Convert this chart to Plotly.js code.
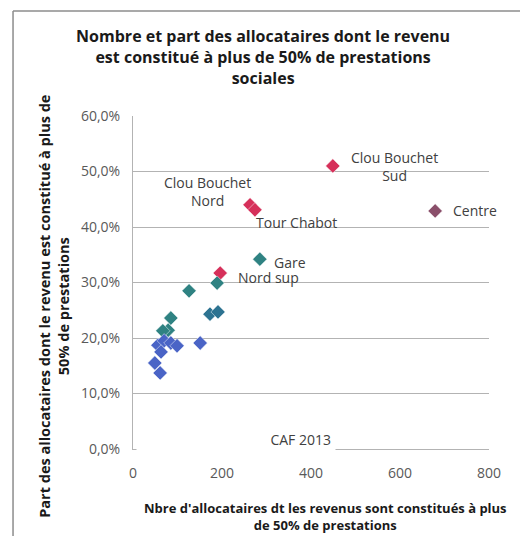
<!DOCTYPE html>
<html>
<head>
<meta charset="utf-8">
<script src="https://cdn.plot.ly/plotly-3.0.1.min.js"></script>
<style>
  html, body { margin: 0; padding: 0; background: #ffffff; }
  #chart { width: 520px; height: 536px; }
</style>
</head>
<body>
<div id="chart"></div>
<script>
// Allocataires CAF 2013 : nombre et part dont le revenu dépend à plus de 50 % des prestations
const quartiers = ["Clou Bouchet Sud", "Clou Bouchet Nord", "Tour Chabot", "Centre", "Nord sup", "Gare",
                   "", "", "", "", "", "", "", "", "", "", "", "", "", "", ""];
const nbAllocataires = [449, 263, 274, 679, 196, 285,
                        189, 126, 173, 191, 85, 79, 67, 151, 56, 70, 85, 63, 99, 49, 61];
const partAllocataires = [0.510, 0.440, 0.431, 0.429, 0.317, 0.342,
                          0.299, 0.285, 0.243, 0.247, 0.236, 0.214, 0.213, 0.191, 0.187, 0.195, 0.191, 0.175, 0.186, 0.155, 0.137];
const xTicks = [0, 200, 400, 600, 800];
const yTicks = [0, 0.1, 0.2, 0.3, 0.4, 0.5, 0.6];

// marker colours, one per point
const RED = "#d6305a", BLUE = "#4a64c6", TEAL = "#2f8282", TEALBLUE = "#2d7391", PLUM = "#8a4f6a";
const pointColors = [RED, RED, RED, PLUM, RED, TEAL,
                     TEAL, TEAL, TEALBLUE, TEALBLUE, TEAL, TEAL, TEAL, BLUE, BLUE, BLUE, BLUE, BLUE, BLUE, BLUE, BLUE];

// label text and offsets (px) from each named point
const labelText = {
  "Clou Bouchet Sud": "Clou Bouchet<br>Sud",
  "Clou Bouchet Nord": "Clou Bouchet<br>Nord"
};
const labelOffset = {
  "Clou Bouchet Sud": [62, -1],
  "Clou Bouchet Nord": [-43, 13],
  "Tour Chabot": [42, -13],
  "Centre": [40, 0],
  "Nord sup": [48, -4],
  "Gare": [30, -3]
};

const FONT = "Open Sans, Noto Sans, sans-serif";
const GRID = "#b3b3b3";

const annotations = [];
quartiers.forEach((q, i) => {
  if (!q) return;
  const off = labelOffset[q] || [0, 0];
  annotations.push({
    x: nbAllocataires[i], y: partAllocataires[i], xref: "x", yref: "y",
    text: labelText[q] || q, showarrow: false,
    xshift: off[0], yshift: off[1], xanchor: "center", yanchor: "middle",
    font: { family: FONT, size: 14, color: "#404040" }
  });
});

// source note, boxed in white over the base of the plot
annotations.push({
  x: 0.0084, y: 0.030, xref: "paper", yref: "paper",
  xanchor: "left", yanchor: "middle", width: 190, align: "right",
  text: "CAF 2013", showarrow: false, bgcolor: "#ffffff", borderpad: 4,
  font: { family: FONT, size: 14, color: "#404040" }
});

// axis titles
annotations.push({
  x: 0.542, y: -0.204, xref: "paper", yref: "paper",
  xanchor: "center", yanchor: "middle", showarrow: false,
  text: "Nbre d'allocataires dt les revenus sont constitués à plus<br>de 50% de prestations",
  font: { family: FONT, size: 13, color: "#1a1a1a", weight: 700 }
});
annotations.push({
  x: -0.222, y: 0.43, xref: "paper", yref: "paper",
  xanchor: "center", yanchor: "middle", showarrow: false, textangle: -90,
  text: "Part des allocataires dont le revenu est constitué à plus de<br>50% de prestations",
  font: { family: FONT, size: 14.5, color: "#1a1a1a", weight: 700 }
});

const trace = {
  type: "scatter", mode: "markers",
  x: nbAllocataires, y: partAllocataires,
  marker: { symbol: "diamond", size: 11, color: pointColors, line: { width: 0.8, color: "rgba(255,255,255,0.6)" } },
  hoverinfo: "x+y"
};

const layout = {
  width: 520, height: 536,
  margin: { l: 133, r: 31, t: 116, b: 87 },
  paper_bgcolor: "#ffffff", plot_bgcolor: "#ffffff",
  separators: ", ",
  showlegend: false,
  title: {
    text: "Nombre et part des allocataires dont le revenu<br>est constitué à plus de 50% de prestations<br>sociales",
    x: 0.506, xref: "container", xanchor: "center",
    y: 0.9215, yref: "container", yanchor: "middle",
    font: { family: FONT, size: 16, color: "#1a1a1a", weight: 700 }
  },
  xaxis: {
    range: [0, 800], tickvals: xTicks, ticktext: xTicks.map(String),
    showgrid: false, zeroline: false, showline: true, linecolor: GRID, linewidth: 1,
    ticks: "", ticklabelstandoff: 11,
    tickfont: { family: FONT, size: 14, color: "#595959" }
  },
  yaxis: {
    range: [0, 0.6], tickvals: yTicks, tickformat: ".1%",
    showgrid: true, gridcolor: GRID, gridwidth: 1,
    zeroline: false, showline: true, linecolor: GRID, linewidth: 1,
    ticks: "", ticklabelstandoff: 9,
    tickfont: { family: FONT, size: 14, color: "#595959" }
  },
  annotations: annotations,
  shapes: [
    // chart frame, top and left edges
    { type: "line", xref: "paper", yref: "paper", x0: -0.337, x1: 1.1, y0: 1.315, y1: 1.315,
      line: { color: "#8c8c8c", width: 1.5 } },
    { type: "line", xref: "paper", yref: "paper", x0: -0.337, x1: -0.337, y0: 1.315, y1: -0.27,
      line: { color: "#8c8c8c", width: 1.5 } }
  ]
};

Plotly.newPlot("chart", [trace], layout, { displayModeBar: false, staticPlot: true });
</script>
</body>
</html>
